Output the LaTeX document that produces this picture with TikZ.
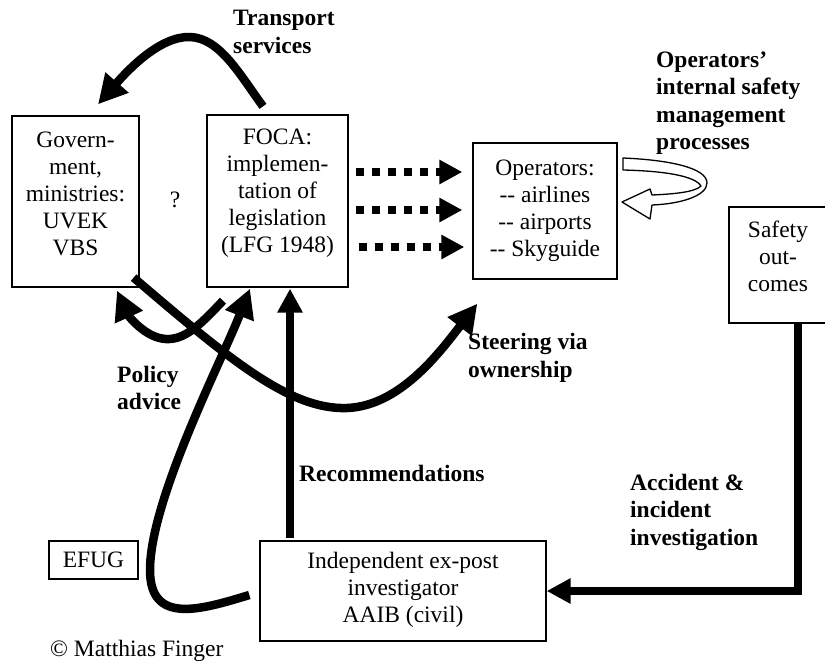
\documentclass[tikz,border=0pt]{standalone}
\usepackage{fontspec}
\setmainfont{Liberation Serif}
\usetikzlibrary{arrows.meta}
\tikzset{
  boxnode/.style={draw, line width=1.3pt, inner sep=0pt},
  txt/.style={inner sep=0pt, align=center, font=\fontsize{23.5pt}{27pt}\selectfont},
  lbl/.style={inner sep=0pt, align=left, anchor=west, font=\fontsize{23.5pt}{27.5pt}\selectfont\bfseries},
  bigarrow/.style={line width=8.5pt, -{Triangle[length=29pt,width=29pt]}},
  strarrow/.style={line width=7.5pt, -{Triangle[length=24pt,width=24pt]}},
  dotarrow/.style={line width=8pt, line cap=butt, dash pattern=on 8pt off 8pt, -{Triangle[length=23pt,width=23pt]}}
}
\begin{document}
\begin{tikzpicture}[x=1pt,y=-1pt]
\useasboundingbox (0,0) rectangle (825,664);
\clip (0,0) rectangle (825,664);
% boxes
\node[boxnode, minimum width=127pt, minimum height=171pt] (gov) at (75.5,201.5) {};
\node[boxnode, minimum width=141pt, minimum height=172pt] (foca) at (277.5,201) {};
\node[boxnode, minimum width=144pt, minimum height=136pt] (ops) at (545,211) {};
\node[boxnode, minimum width=98pt, minimum height=116pt] (safety) at (778,265) {};
\node[boxnode, minimum width=89pt, minimum height=38pt] (efug) at (93.5,560) {};
\node[boxnode, minimum width=286pt, minimum height=100pt] (aaib) at (403,591) {};
% box texts
\node[txt] (govt) at (75.5,194) {Govern-\\ment,\\ministries:\\UVEK\\VBS};
\node[txt] (focat) at (277.5,193) {FOCA:\\implemen-\\tation of\\legislation\\(LFG 1948)};
\node[txt] (opst) at (545,211) {Operators:\\-{}- airlines\\-{}- airports\\-{}- Skyguide};
\node[txt] (safetyt) at (778,256) {Safety\\out-\\comes};
\node[txt] (efugt) at (93.5,560) {EFUG};
\node[txt] (aaibt) at (403,590) {Independent ex-post\\investigator\\AAIB (civil)};
\node[txt] (qm) at (175,200) {?};
\node[txt, anchor=west] (copy) at (50,651) {© Matthias Finger};
% labels
\node[lbl] (ltrans) at (233,32) {Transport\\services};
\node[lbl] (lops) at (656,103) {Operators’\\internal safety\\management\\processes};
\node[lbl] (lsteer) at (468,358) {Steering via\\ownership};
\node[lbl] (lpol) at (117,388) {Policy\\advice};
\node[lbl] (lrec) at (299,473) {Recommendations};
\node[lbl] (lacc) at (630,512) {Accident \&\\incident\\investigation};
% transport services arrow
\draw[bigarrow] ([shift={(-14.5,-8)}]foca.north) .. controls (240,75) and (220,38) .. (190,37)
  .. controls (160,36) and (128,70) .. ([shift={(22.5,-11)}]gov.north);
% dotted arrows
\draw[dotarrow] ([shift={(7,-29)}]foca.east) -- ([shift={(-10,-39)}]ops.west);
\draw[dotarrow] ([shift={(7,9)}]foca.east) -- ([shift={(-10,-1)}]ops.west);
\draw[dotarrow] ([shift={(10,46)}]foca.east) -- ([shift={(-8,36)}]ops.west);
% curl arrow
\draw[line width=1.3pt, fill=white, line join=round] (623,158) .. controls (670,160) and (707,168) .. (707,183)
  .. controls (707,196) and (680,204) .. (652,205)
  -- (650,219) -- (622,202) -- (650,189) -- (652,195)
  .. controls (675,194) and (695,192) .. (701,186)
  .. controls (695,176) and (665,171) .. (623,170) -- cycle;
% steering via ownership
\draw[bigarrow] ([shift={(-6,-10)}]gov.south east) .. controls (230,360) and (290,410) .. (347,408)
  .. controls (400,406) and (440,352) .. ([shift={(5,24)}]ops.south west);
% policy advice FOCA -> Gov
\draw[bigarrow] ([shift={(-54.5,13)}]foca.south) .. controls (200,325) and (185,340) .. (166,339)
  .. controls (145,338) and (128,315) .. ([shift={(41.5,3)}]gov.south);
% policy advice AAIB -> FOCA
\draw[bigarrow] ([shift={(-10,4)}]aaib.west) .. controls (200,610) and (150,625) .. (150,570)
  .. controls (150,500) and (222,360) .. ([shift={(-27.5,1)}]foca.south);
% recommendations
\draw[strarrow] ([shift={(-113,-2)}]aaib.north) -- ([shift={(12.5,1)}]foca.south);
% accident & incident investigation
\draw[strarrow, line join=miter] ([xshift=20pt]safety.south) |- (aaib.east);
\end{tikzpicture}
\end{document}
